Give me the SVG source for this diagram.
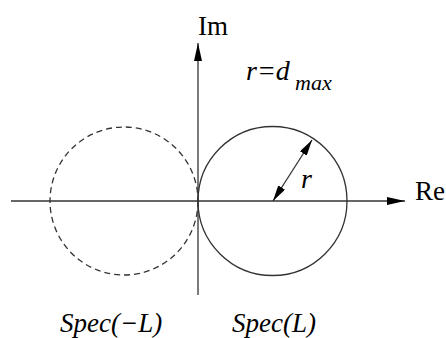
<svg xmlns="http://www.w3.org/2000/svg" width="446" height="338" viewBox="0 0 446 338">
<defs>
<marker id="big" viewBox="0 0 18 8" refX="18" refY="4" markerWidth="18" markerHeight="8" markerUnits="userSpaceOnUse" orient="auto"><path d="M0,0 L18,4 L0,8 Z" fill="#000"/></marker>
<marker id="sm" viewBox="0 0 16 8" refX="16" refY="4" markerWidth="16" markerHeight="8" markerUnits="userSpaceOnUse" orient="auto-start-reverse"><path d="M0,0 L16,4 L0,8 Z" fill="#000"/></marker>
</defs>
<style>
.ax{stroke:#333;stroke-width:1.3;fill:none}
.c{stroke:#333;stroke-width:1.3;fill:none}
.d{stroke-dasharray:6,4}
text{font-family:"Liberation Serif","Times New Roman",serif;fill:#000}
.it{font-style:italic}
</style>
<g id="connectors">
<line class="ax" x1="11" y1="201" x2="405" y2="201" marker-end="url(#big)"/>
<line class="ax" x1="198" y1="295" x2="198" y2="43" marker-end="url(#big)"/>
<line class="ax" x1="273" y1="201" x2="312" y2="140" marker-start="url(#sm)" marker-end="url(#sm)"/>
</g>
<g id="spec-L">
<circle class="c" cx="272.5" cy="201" r="74.5"/>
</g>
<g id="spec-minus-L">
<circle class="c d" cx="124" cy="201" r="74"/>
</g>
<g id="labels">
<text x="198" y="35" font-size="27">Im</text>
<text x="415" y="200" font-size="27">Re</text>
<text x="246" y="80" font-size="28" class="it">r=d</text>
<text x="295" y="90" font-size="22" class="it">max</text>
<text x="301" y="188" font-size="28" class="it">r</text>
<text x="60" y="332" font-size="27" class="it">Spec(−L)</text>
<text x="232" y="332" font-size="27" class="it">Spec(L)</text>
</g>
</svg>
